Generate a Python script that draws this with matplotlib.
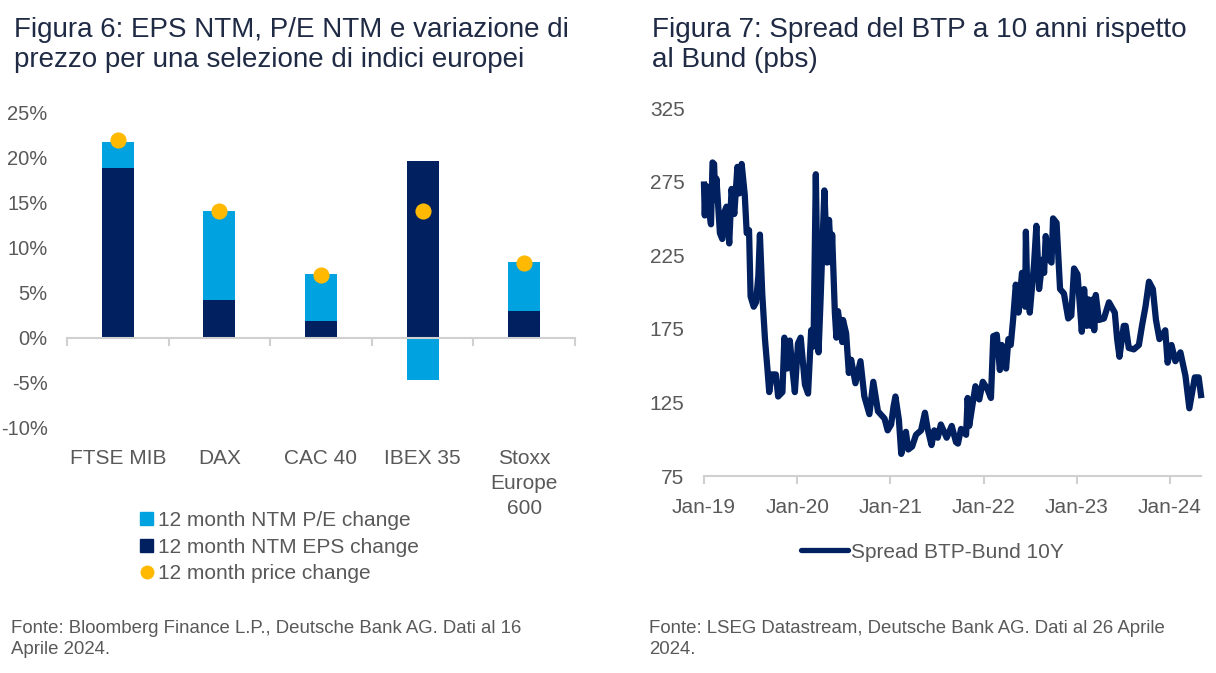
import numpy as np
import matplotlib
matplotlib.use('Agg')
import matplotlib.pyplot as plt
from matplotlib.lines import Line2D
from matplotlib.patches import Patch

plt.rcParams['font.family'] = ['Liberation Sans', 'DejaVu Sans']

# Figura 6
indices = ['FTSE MIB', 'DAX', 'CAC 40', 'IBEX 35', 'Stoxx\nEurope\n600']
eps_change = [18.8, 4.2, 1.8, 19.6, 3.0]
pe_change = [2.9, 9.8, 5.3, -4.7, 5.4]
price_change = [21.9, 14.0, 6.9, 14.0, 8.3]
pct_ticks = [-10, -5, 0, 5, 10, 15, 20, 25]

# Figura 7, months since Jan-19 / spread in bps
spread_months = [0.0, 0.1, 0.2, 0.3, 0.55, 0.7, 0.9, 1.1, 1.3, 1.45, 1.6,
                 1.85, 2.05, 2.35, 2.6, 2.9, 3.25, 3.55, 3.9, 4.3, 4.55,
                 4.85, 5.25, 5.5, 5.8, 6.0, 6.4, 6.7, 7.0, 7.2, 7.5,
                 7.85, 8.15, 8.4, 8.7, 9.25, 9.55, 10.1, 10.35, 10.7, 11.05,
                 11.4, 11.7, 12.1, 12.45, 13.0, 13.4, 13.8, 14.1, 14.4, 14.75,
                 15.0, 15.5, 15.85, 16.1, 16.4, 16.5, 16.85, 17.05, 17.25, 17.8,
                 17.9, 18.3, 18.65, 18.95, 19.5, 20.15, 20.65, 21.3, 21.8, 22.4,
                 23.25, 23.65, 24.1, 24.4, 24.65, 25.1, 25.4, 26.0, 26.3, 26.8,
                 27.3, 27.95, 28.45, 28.8, 29.3, 29.65, 30.1, 30.5, 31.25, 31.9,
                 32.45, 32.7, 33.1, 33.75, 33.95, 34.15, 34.6, 34.95, 35.45, 35.9,
                 36.5, 36.95, 37.25, 37.7, 38.1, 38.35, 38.9, 39.2, 39.5, 39.8,
                 40.15, 40.5, 40.95, 41.35, 41.45, 41.65, 41.8, 41.95, 42.5, 42.8, 43.15, 43.6, 43.8, 44.0,
                 44.45, 44.75, 44.95, 45.4, 45.85, 46.35, 46.9, 47.3, 47.65, 48.1,
                 48.65, 48.95, 49.3, 49.5, 49.8, 50.1, 50.25, 50.45, 50.85, 51.5, 52.15, 52.9,
                 53.2, 53.5, 54.05, 54.3, 54.7, 55.35, 56.0, 56.4, 56.85, 57.3,
                 57.8, 58.2, 58.65, 59.4, 59.7, 60.2, 60.7, 61.35, 62.0, 62.5,
                 63.2, 63.7, 64.0]
spread_values = [273, 252, 268, 272, 270, 253, 246, 288, 287, 263, 277,
                 256, 240, 236, 254, 258, 233, 270, 253, 285, 267,
                 287, 266, 240, 242, 197, 190, 193, 211, 239, 199,
                 168, 149, 132, 144, 144, 129, 132, 169, 148, 167,
                 147, 132, 165, 169, 137, 131, 174, 163, 280, 159,
                 193, 269, 220, 249, 220, 239, 186, 169, 187, 166,
                 181, 172, 145, 154, 138, 153, 129, 117, 139, 119,
                 114, 106, 110, 122, 129, 113, 90, 105, 93, 95,
                 103, 106, 118, 107, 96, 106, 101, 110, 101, 109,
                 98, 97, 107, 103, 128, 109, 124, 136, 127, 139,
                 134, 128, 170, 171, 147, 164, 148, 168, 164, 181,
                 205, 186, 213, 190, 241, 195, 202, 186, 219, 245, 202, 222, 213, 238,
                 222, 220, 250, 247, 202, 199, 182, 184, 216, 212,
                 173, 202, 177, 195, 177, 195, 174, 198, 181, 182, 193, 186,
                 168, 156, 177, 177, 162, 161, 164, 177, 190, 207,
                 202, 181, 168, 174, 152, 164, 153, 159, 143, 121,
                 142, 142, 130]
year_ticks = [0, 12, 24, 36, 48, 60]
year_labels = ['Jan-19', 'Jan-20', 'Jan-21', 'Jan-22', 'Jan-23', 'Jan-24']
spread_ticks = [75, 125, 175, 225, 275, 325]

NAVY = '#002060'
BLUE = '#00A3E0'
GOLD = '#FFB900'
GREY = '#595959'
AXIS = '#D0D0D0'
TITLE = '#1F2A44'

W, H = 1216, 673
fig = plt.figure(figsize=(W / 100, H / 100), dpi=100)


def pixel_axes(left, top, right, bottom):
    return fig.add_axes([left / W, 1 - bottom / H, (right - left) / W, (bottom - top) / H])


def label(x, y, s, size, color=GREY, spacing=1.2):
    fig.text(x / W, 1 - y / H, s, fontsize=size, color=color, va='center', ha='left', linespacing=spacing)


# left chart
ax = pixel_axes(67, 112, 575, 428)
x = np.arange(len(indices)) + 0.5
ax.bar(x, eps_change, width=0.315, color=NAVY, linewidth=0)
pe_bottom = [e if p > 0 else 0 for e, p in zip(eps_change, pe_change)]
ax.bar(x, pe_change, width=0.315, bottom=pe_bottom, color=BLUE, linewidth=0)
ax.scatter(x, price_change, s=135, color=GOLD, linewidth=0, zorder=3)
ax.set_xlim(0, len(indices))
ax.set_ylim(-10, 25)
ax.set_yticks(pct_ticks)
ax.set_yticklabels([f'{t}%' for t in pct_ticks])
ax.set_xticks(np.arange(len(indices) + 1))
ax.set_xticklabels([])
ax.tick_params(axis='x', which='major', length=6, width=1.5, color=AXIS)
ax.tick_params(axis='y', length=0, pad=14, labelsize=14.5, labelcolor=GREY)
# tick labels ignore linespacing here, so the category names are annotations
for xi, name in zip(x, indices):
    ax.annotate(name, (xi, 0), xytext=(0, -80), textcoords='offset points', ha='center', va='top',
                fontsize=15, color=GREY, linespacing=1.41, annotation_clip=False)
for side in ['top', 'right', 'left']:
    ax.spines[side].set_visible(False)
ax.spines['bottom'].set_position(('data', 0))
ax.spines['bottom'].set_color(AXIS)
ax.spines['bottom'].set_linewidth(1.5)
ax.patch.set_alpha(0)

handles = [Patch(color=BLUE, label='12 month NTM P/E change'),
           Patch(color=NAVY, label='12 month NTM EPS change'),
           Line2D([], [], color=GOLD, marker='o', markersize=9, linestyle='', label='12 month price change')]
fig.legend(handles=handles, loc='upper left', bbox_to_anchor=(140 / W, 1 - 511 / H), frameon=False,
           fontsize=15, labelcolor=GREY, handlelength=0.63, handleheight=0.63, handletextpad=0.24,
           labelspacing=0.37, borderpad=0, borderaxespad=0)

# right chart
ax2 = pixel_axes(704, 108, 1201, 476)
ax2.plot(spread_months, spread_values, color=NAVY, linewidth=4.5, solid_joinstyle='round', clip_on=False)
ax2.set_xlim(0, 64)
ax2.set_ylim(75, 325)
ax2.set_xticks(year_ticks)
ax2.set_xticklabels(year_labels)
ax2.set_yticks(spread_ticks)
ax2.tick_params(axis='x', length=6, width=1.5, color=AXIS, pad=10, labelsize=15, labelcolor=GREY)
ax2.tick_params(axis='y', length=0, pad=14, labelsize=15, labelcolor=GREY)
for side in ['top', 'right', 'left']:
    ax2.spines[side].set_visible(False)
ax2.spines['bottom'].set_color(AXIS)
ax2.spines['bottom'].set_linewidth(1.5)

fig.legend(handles=[Line2D([], [], color=NAVY, linewidth=3.8, solid_capstyle='round', label='Spread BTP-Bund 10Y')],
           loc='center left', bbox_to_anchor=(801 / W, 1 - 552 / H), frameon=False, fontsize=15,
           labelcolor=GREY, handlelength=2.25, handletextpad=0.15, borderpad=0, borderaxespad=0)

# titles and sources
label(14, 45, 'Figura 6: EPS NTM, P/E NTM e variazione di\nprezzo per una selezione di indici europei', 20, TITLE)
label(652, 45, 'Figura 7: Spread del BTP a 10 anni rispetto\nal Bund (pbs)', 20.1, TITLE)
label(11, 639, 'Fonte: Bloomberg Finance L.P., Deutsche Bank AG. Dati al 16\nAprile 2024.', 13.4, spacing=1.25)
label(649, 639, 'Fonte: LSEG Datastream, Deutsche Bank AG. Dati al 26 Aprile\n2024.', 13.4, spacing=1.25)

fig.savefig('out.png', dpi=100)
